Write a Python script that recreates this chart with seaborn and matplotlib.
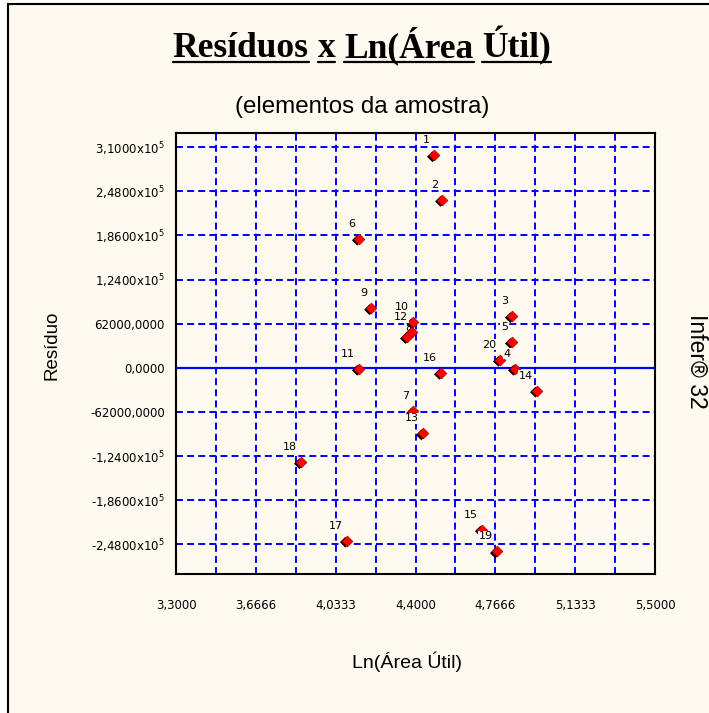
import matplotlib
matplotlib.use("Agg")
import matplotlib.pyplot as plt
import numpy as np
import pandas as pd
import seaborn as sns
from matplotlib.transforms import ScaledTranslation
from matplotlib.patches import Rectangle
from matplotlib.lines import Line2D

# ---------------- data ----------------
point_ids = [str(i) for i in range(1, 21)]
ln_area = [4.485, 4.522, 4.843, 4.857, 4.843, 4.140, 4.389, 4.361, 4.196, 4.389,
           4.140, 4.384, 4.434, 4.958, 4.705, 4.517, 4.085, 3.874, 4.774, 4.788]
residuo = [298800, 236000, 72600, -1400, 36300, 181500, -61400, 43300, 83800, 64200,
           -1400, 50300, -92200, -32100, -227600, -7000, -243000, -132700, -258300, 11200]

x_ticks = [3.3, 3.6666, 4.0333, 4.4, 4.7666, 5.1333, 5.5]
x_tick_labels = ["3,3000", "3,6666", "4,0333", "4,4000", "4,7666", "5,1333", "5,5000"]
x_minor_ticks = [3.48333, 3.85, 4.21667, 4.58333, 4.95, 5.31667]
y_ticks = [310000, 248000, 186000, 124000, 62000, 0, -62000, -124000, -186000, -248000]
y_tick_labels = [r"3,1000x10$^5$", r"2,4800x10$^5$", r"1,8600x10$^5$", r"1,2400x10$^5$",
                 "62000,0000", "0,0000", "-62000,0000",
                 r"-1,2400x10$^5$", r"-1,8600x10$^5$", r"-2,4800x10$^5$"]

title_words = ["Resíduos", "x", "Ln(Área", "Útil)"]
subtitle = "(elementos da amostra)"
x_label = "Ln(Área Útil)"
y_label = "Resíduo"
side_text = "Infer® 32"

df = pd.DataFrame({"id": point_ids, "x": ln_area, "y": residuo})

# ---------------- style ----------------
CREAM = "#FFFAF0"
BLUE = "#0000FF"
sns.set_theme(style="white")
plt.rcParams["font.family"] = ["DejaVu Sans"]
plt.rcParams["lines.scale_dashes"] = False
plt.rcParams["text.color"] = "black"
plt.rcParams["axes.labelcolor"] = "black"
plt.rcParams["xtick.color"] = "black"
plt.rcParams["ytick.color"] = "black"

W, H = 709, 713
fig = plt.figure(figsize=(W / 100, H / 100), dpi=100)
fig.patch.set_facecolor("white")

# frame (left and top edges visible)
frame = Rectangle((8 / W, -0.2), 1.2, 0.2 + 1 - 4 / H, transform=fig.transFigure,
                  facecolor=CREAM, edgecolor="black", lw=1.5, zorder=-10)
fig.add_artist(frame)

L, R, T, B = 176, 655, 133, 574
ax = fig.add_axes([L / W, 1 - B / H, (R - L) / W, (B - T) / H])
ax.set_facecolor(CREAM)

ax.set_xlim(3.3, 5.5)
ax.set_ylim(-290000, 330000)
ax.set_xticks(x_ticks)
ax.set_xticklabels(x_tick_labels, fontsize=8.5)
ax.set_xticks(x_minor_ticks, minor=True)
ax.set_yticks(y_ticks)
ax.set_yticklabels(y_tick_labels, fontsize=8.5)

dash = (0, (5, 3))
for xv in x_ticks[1:-1] + x_minor_ticks:
    ax.axvline(xv, color=BLUE, lw=1.4, ls=dash, zorder=1)
for yv in y_ticks:
    if yv != 0:
        ax.axhline(yv, color=BLUE, lw=1.4, ls=dash, zorder=1)
ax.axhline(0, color=BLUE, lw=1.6, zorder=1)

ax.tick_params(axis="x", which="major", direction="in", length=4, width=1.2,
               color="black", pad=18, labelcolor="black")
ax.tick_params(axis="x", which="minor", direction="in", length=4, width=1.2, color=BLUE)
ax.tick_params(axis="y", length=0, pad=8, labelcolor="black")
for s in ax.spines.values():
    s.set_color("black")
    s.set_linewidth(1.5)
    s.set_visible(True)

# markers: shadow + red
sns.scatterplot(data=df, x="x", y="y", ax=ax, marker="D", s=30, color="black",
                edgecolor="none", zorder=3, legend=False)
shadow = ax.collections[-1]
shadow.set_offset_transform(ax.transData + ScaledTranslation(-1.6 / 100, -1.6 / 100,
                                                             fig.dpi_scale_trans))
sns.scatterplot(data=df, x="x", y="y", ax=ax, marker="D", s=30, color="#FF0000",
                edgecolor="#B00000", linewidth=0.5, zorder=4, legend=False)

label_offset = {"8": (5, 9)}
for pid, xv, yv in zip(df["id"], df["x"], df["y"]):
    off = label_offset.get(pid, (-4, 15))
    z = 2.5 if pid == "8" else 5
    ax.annotate(pid, (xv, yv), xytext=off, textcoords="offset pixels",
                ha="right", va="center", fontsize=8, color="black", zorder=z,
                bbox=dict(boxstyle="square,pad=0.05", fc=CREAM, ec="none"))

ax.set_xlabel("")
ax.set_ylabel("")

# texts
fig.text(407 / W, 1 - 662 / H, x_label, ha="center", va="center", fontsize=14,
         family=["Liberation Sans"])
fig.text(52 / W, 1 - 345 / H, y_label, ha="center", va="center", rotation=90,
         fontsize=13.5, family=["Liberation Sans"])
fig.text(696 / W, 1 - 361 / H, side_text, ha="center", va="center", rotation=270,
         fontsize=16.5, family=["Liberation Sans"])
fig.text(362 / W, 1 - 113 / H, subtitle, ha="center", va="baseline", fontsize=17.4,
         family=["Liberation Sans"])

# title with per-word underline
renderer = fig.canvas.get_renderer()
tprops = dict(fontsize=25.5, fontweight="bold", family=["Liberation Serif"], color="black")

def width_px(s):
    t = fig.text(0, 0, s, **tprops)
    w = t.get_window_extent(renderer).width
    t.remove()
    return w

widths = [width_px(w) for w in title_words]
space = width_px("n n") - width_px("nn")
total = sum(widths) + space * (len(title_words) - 1)
x0 = 362 - total / 2
base_y = H - 57
for word, w in zip(title_words, widths):
    fig.text(x0 / W, base_y / H, word, ha="left", va="baseline", **tprops)
    fig.add_artist(Line2D([x0 / W, (x0 + w) / W], [(base_y - 5) / H, (base_y - 5) / H],
                          transform=fig.transFigure, color="black", lw=1.6))
    x0 += w + space

fig.savefig("out.png", dpi=100, facecolor="white")
